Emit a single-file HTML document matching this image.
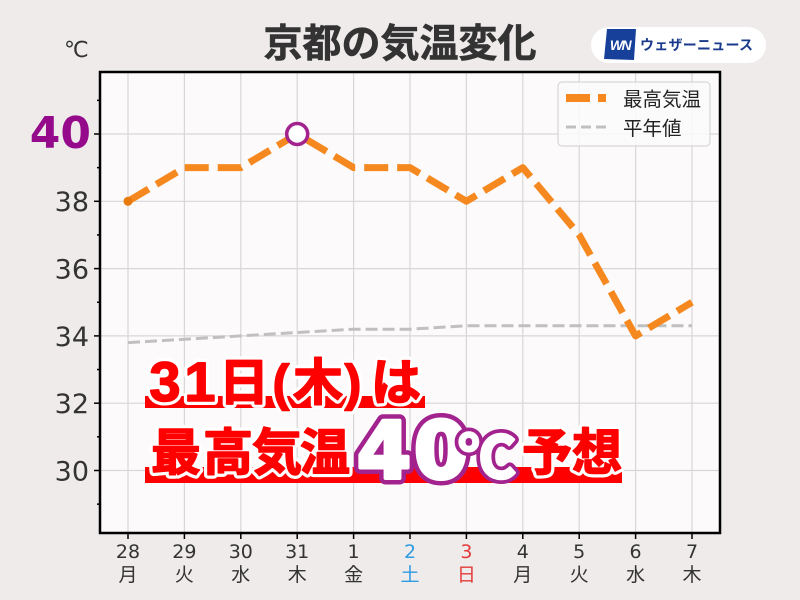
<!DOCTYPE html>
<html><head><meta charset="utf-8">
<style>
html,body{margin:0;padding:0;background:#eeebea;}
svg{display:block;}
</style></head>
<body>
<svg width="800" height="600" viewBox="0 0 800 600" xmlns="http://www.w3.org/2000/svg">
<rect x="0" y="0" width="800" height="600" fill="#eeebea"/>
<!-- title -->
<text x="400" y="57" text-anchor="middle" font-family="'Liberation Sans','Noto Sans CJK JP',sans-serif" font-weight="bold" font-size="39" fill="#333" stroke="#333" stroke-width="0.6">京都の気温変化</text>
<text x="64" y="57" font-family="'DejaVu Sans','Noto Sans CJK JP',sans-serif" font-size="22" fill="#333">℃</text>
<!-- logo -->
<rect x="591" y="27" width="175" height="36" rx="18" fill="#ffffff"/>
<polygon points="607,29 636,29 634,60 604,59" fill="#17409a"/>
<text x="620" y="50" text-anchor="middle" font-family="'Liberation Sans',sans-serif" font-weight="bold" font-style="italic" font-size="14" fill="#ffffff" letter-spacing="-1.5">WN</text>
<text x="640" y="50" font-family="'Liberation Sans','Noto Sans CJK JP',sans-serif" font-weight="bold" font-size="14" fill="#1a3a8c" textLength="113" lengthAdjust="spacing">ウェザーニュース</text>
<!-- plot area -->
<rect x="100" y="72" width="620" height="461" fill="#fcfafb"/>
<g stroke="#d9d6d8" stroke-width="1.2">
<line x1="128" y1="72" x2="128" y2="533"/>
<line x1="184.4" y1="72" x2="184.4" y2="533"/>
<line x1="240.8" y1="72" x2="240.8" y2="533"/>
<line x1="297.2" y1="72" x2="297.2" y2="533"/>
<line x1="353.6" y1="72" x2="353.6" y2="533"/>
<line x1="410" y1="72" x2="410" y2="533"/>
<line x1="466.4" y1="72" x2="466.4" y2="533"/>
<line x1="522.8" y1="72" x2="522.8" y2="533"/>
<line x1="579.2" y1="72" x2="579.2" y2="533"/>
<line x1="635.6" y1="72" x2="635.6" y2="533"/>
<line x1="692" y1="72" x2="692" y2="533"/>
<line x1="100" y1="134" x2="720" y2="134"/>
<line x1="100" y1="201.3" x2="720" y2="201.3"/>
<line x1="100" y1="268.6" x2="720" y2="268.6"/>
<line x1="100" y1="335.9" x2="720" y2="335.9"/>
<line x1="100" y1="403.2" x2="720" y2="403.2"/>
<line x1="100" y1="470.5" x2="720" y2="470.5"/>
</g>
<!-- normal line -->
<polyline points="128,342.6 184.4,339.3 240.8,335.9 297.2,332.5 353.6,329.2 410,329.2 466.4,325.8 522.8,325.8 579.2,325.8 635.6,325.8 692,325.8" fill="none" stroke="#c0c0c0" stroke-width="3" stroke-dasharray="12 5"/>
<!-- max line -->
<polyline points="128,201.3 184.4,167.65 240.8,167.65 297.2,134 353.6,167.65 410,167.65 466.4,201.3 522.8,167.65 579.2,234.95 635.6,335.9 692,302.25" fill="none" stroke="#f5891f" stroke-width="7" stroke-dasharray="24 9" stroke-linejoin="round"/>
<circle cx="128" cy="201.3" r="4.5" fill="#e67a0c"/>
<circle cx="297.2" cy="134" r="10.5" fill="#ffffff" stroke="#a3238e" stroke-width="3.5"/>
<!-- legend -->
<rect x="558" y="82" width="152" height="64" rx="4" fill="#fcfafb" fill-opacity="0.85" stroke="#cfcfcf" stroke-width="1"/>
<line x1="566" y1="98" x2="606" y2="98" stroke="#f5891f" stroke-width="8" stroke-dasharray="24 8"/>
<line x1="566" y1="127" x2="606" y2="127" stroke="#c0c0c0" stroke-width="3" stroke-dasharray="10 5"/>
<text x="623" y="106" font-family="'Liberation Sans','Noto Sans CJK JP',sans-serif" font-size="19.5" fill="#222">最高気温</text>
<text x="623" y="135" font-family="'Liberation Sans','Noto Sans CJK JP',sans-serif" font-size="19.5" fill="#222">平年値</text>
<!-- overlay -->
<rect x="145" y="396" width="280" height="12" fill="#ff0000"/>
<rect x="145" y="467" width="477" height="16" fill="#ff0000"/>
<g font-family="'Liberation Sans','Noto Sans CJK JP',sans-serif" font-weight="bold" font-size="50" fill="#ff0000" stroke="#ffffff" stroke-width="8" stroke-linejoin="round" paint-order="stroke" text-anchor="middle">
<text x="165" y="401" font-size="56">3</text>
<text x="200" y="401" font-size="56">1</text>
<text x="244" y="400">日</text>
<text x="281" y="400">(</text>
<text x="318" y="400">木</text>
<text x="353" y="400">)</text>
<text x="396" y="400">は</text>
<text x="176" y="470">最</text>
<text x="228" y="470">高</text>
<text x="277" y="470">気</text>
<text x="325" y="470">温</text>
<text x="547" y="470">予</text>
<text x="597" y="470">想</text>
</g>
<g font-family="'Liberation Sans','Noto Sans CJK JP',sans-serif" font-weight="bold" font-size="50" fill="#ff0000" stroke="#ff0000" stroke-width="1.6" stroke-linejoin="round" text-anchor="middle">
<text x="165" y="401" font-size="56">3</text>
<text x="200" y="401" font-size="56">1</text>
<text x="244" y="400">日</text>
<text x="281" y="400">(</text>
<text x="318" y="400">木</text>
<text x="353" y="400">)</text>
<text x="396" y="400">は</text>
<text x="176" y="470">最</text>
<text x="228" y="470">高</text>
<text x="277" y="470">気</text>
<text x="325" y="470">温</text>
<text x="547" y="470">予</text>
<text x="597" y="470">想</text>
</g>
<g font-family="'DejaVu Sans',sans-serif" font-weight="bold" font-size="78" fill="#a3238e" stroke="#a3238e" stroke-width="13" stroke-linejoin="round" text-anchor="middle">
<text x="384" y="478">4</text>
<text x="441" y="478">0</text>
</g>
<g font-family="'DejaVu Sans',sans-serif" font-weight="bold" font-size="78" fill="#ffffff" stroke="#ffffff" stroke-width="4" stroke-linejoin="round" text-anchor="middle">
<text x="384" y="478">4</text>
<text x="441" y="478">0</text>
</g>
<text x="458" y="478" font-family="'Noto Sans CJK JP',sans-serif" font-weight="bold" font-size="58" fill="#a3238e" stroke="#a3238e" stroke-width="10" stroke-linejoin="round">℃</text>
<text x="458" y="478" font-family="'Noto Sans CJK JP',sans-serif" font-weight="bold" font-size="58" fill="#ffffff" stroke="#ffffff" stroke-width="2.5" stroke-linejoin="round">℃</text>
<!-- axes frame -->
<rect x="100" y="72" width="620" height="461" fill="none" stroke="#000" stroke-width="2.5"/>
<!-- y ticks -->
<g stroke="#000" stroke-width="1.5">
<line x1="94" y1="134" x2="100" y2="134"/>
<line x1="94" y1="201.3" x2="100" y2="201.3"/>
<line x1="94" y1="268.6" x2="100" y2="268.6"/>
<line x1="94" y1="335.9" x2="100" y2="335.9"/>
<line x1="94" y1="403.2" x2="100" y2="403.2"/>
<line x1="94" y1="470.5" x2="100" y2="470.5"/>
<line x1="97" y1="100.35" x2="100" y2="100.35"/>
<line x1="97" y1="167.65" x2="100" y2="167.65"/>
<line x1="97" y1="234.95" x2="100" y2="234.95"/>
<line x1="97" y1="302.25" x2="100" y2="302.25"/>
<line x1="97" y1="369.55" x2="100" y2="369.55"/>
<line x1="97" y1="436.85" x2="100" y2="436.85"/>
<line x1="97" y1="504.15" x2="100" y2="504.15"/>
</g>
<!-- x ticks -->
<g stroke="#000" stroke-width="1.5">
<line x1="128" y1="533" x2="128" y2="539"/>
<line x1="184.4" y1="533" x2="184.4" y2="539"/>
<line x1="240.8" y1="533" x2="240.8" y2="539"/>
<line x1="297.2" y1="533" x2="297.2" y2="539"/>
<line x1="353.6" y1="533" x2="353.6" y2="539"/>
<line x1="410" y1="533" x2="410" y2="539"/>
<line x1="466.4" y1="533" x2="466.4" y2="539"/>
<line x1="522.8" y1="533" x2="522.8" y2="539"/>
<line x1="579.2" y1="533" x2="579.2" y2="539"/>
<line x1="635.6" y1="533" x2="635.6" y2="539"/>
<line x1="692" y1="533" x2="692" y2="539"/>
</g>
<!-- y labels -->
<g font-family="'DejaVu Sans',sans-serif" font-size="27" fill="#333" text-anchor="end">
<text x="89" y="211">38</text>
<text x="89" y="278.5">36</text>
<text x="89" y="346">34</text>
<text x="89" y="413">32</text>
<text x="89" y="480.5">30</text>
</g>
<text x="91" y="148" text-anchor="end" font-family="'DejaVu Sans',sans-serif" font-weight="bold" font-size="44" fill="#940a8a">40</text>
<!-- x labels -->
<g font-family="'DejaVu Sans',sans-serif" font-size="19" fill="#333" text-anchor="middle">
<text x="128" y="558">28</text>
<text x="184.4" y="558">29</text>
<text x="240.8" y="558">30</text>
<text x="297.2" y="558">31</text>
<text x="353.6" y="558">1</text>
<text x="410" y="558" fill="#2f9be3">2</text>
<text x="466.4" y="558" fill="#e33c3c">3</text>
<text x="522.8" y="558">4</text>
<text x="579.2" y="558">5</text>
<text x="635.6" y="558">6</text>
<text x="692" y="558">7</text>
</g>
<g font-family="'Liberation Sans','Noto Sans CJK JP',sans-serif" font-size="19" fill="#333" text-anchor="middle">
<text x="128" y="581">月</text>
<text x="184.4" y="581">火</text>
<text x="240.8" y="581">水</text>
<text x="297.2" y="581">木</text>
<text x="353.6" y="581">金</text>
<text x="410" y="581" fill="#2f9be3">土</text>
<text x="466.4" y="581" fill="#e33c3c">日</text>
<text x="522.8" y="581">月</text>
<text x="579.2" y="581">火</text>
<text x="635.6" y="581">水</text>
<text x="692" y="581">木</text>
</g>
</svg>
</body></html>
